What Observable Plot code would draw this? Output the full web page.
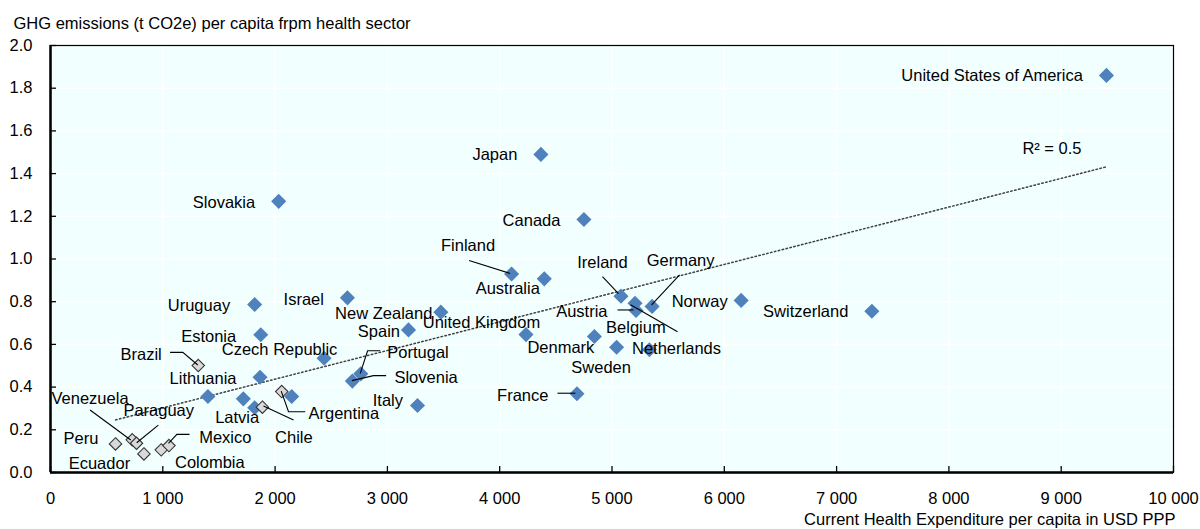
<!DOCTYPE html>
<html>
<head>
<meta charset="utf-8">
<script src="https://cdn.jsdelivr.net/npm/d3@7"></script>
<script src="https://cdn.jsdelivr.net/npm/@observablehq/plot@0.6"></script>
<style>
  html, body { margin: 0; padding: 0; background: #ffffff; }
  #chart svg { display: block; }
</style>
</head>
<body>
<div id="chart"></div>
<script>
// ---------------- DATA ----------------
const countries = [
  "United States of America", "Japan", "Slovakia", "Canada", "Finland", "Australia",
  "Ireland", "Germany", "Austria", "Netherlands", "Belgium", "Norway", "Switzerland",
  "Israel", "Uruguay", "Estonia", "New Zealand", "Spain", "United Kingdom", "Denmark",
  "Sweden", "Czech Republic", "Portugal", "Slovenia", "Italy", "France", "Lithuania",
  "Latvia", "Other A", "Other B", "Other C",
  "Brazil", "Argentina", "Chile", "Venezuela", "Paraguay", "Peru", "Ecuador", "Colombia", "Mexico"
];
// Current Health Expenditure per capita in USD PPP
const expenditure = [
  9403, 4367, 2032, 4750, 4106, 4397,
  5080, 5357, 5214, 5205, 5333, 6150, 7314,
  2644, 1818, 1872, 3476, 3188, 4234, 4843,
  5041, 2436, 2763, 2688, 3268, 4688, 1866,
  1818, 1402, 1717, 2148,
  1316, 2059, 1887, 728, 766, 579, 832, 986, 1055
];
// GHG emissions (t CO2e) per capita from health sector
const emissions = [
  1.86, 1.49, 1.27, 1.185, 0.93, 0.907,
  0.826, 0.778, 0.759, 0.793, 0.575, 0.806, 0.755,
  0.818, 0.787, 0.645, 0.751, 0.668, 0.646, 0.637,
  0.587, 0.535, 0.462, 0.428, 0.314, 0.369, 0.446,
  0.303, 0.356, 0.345, 0.356,
  0.501, 0.379, 0.306, 0.153, 0.137, 0.134, 0.087, 0.106, 0.126
];
// "main" = blue diamonds, "partner" = grey diamonds
const groups = [
  "main","main","main","main","main","main",
  "main","main","main","main","main","main","main",
  "main","main","main","main","main","main","main",
  "main","main","main","main","main","main","main",
  "main","main","main","main",
  "partner","partner","partner","partner","partner","partner","partner","partner","partner"
];
// shown label (empty = no label)
const labels = countries.map(c => c.startsWith("Other") ? "" : c);

const xTicks = [0, 1000, 2000, 3000, 4000, 5000, 6000, 7000, 8000, 9000, 10000];
const yTicks = [0, 0.2, 0.4, 0.6, 0.8, 1.0, 1.2, 1.4, 1.6, 1.8, 2.0];
const titleText = "GHG emissions (t CO2e) per capita frpm health sector";
const xTitleText = "Current Health Expenditure per capita in USD PPP";
const rSquaredText = "R\u00B2 = 0.5";

// ---------------- LABEL LAYOUT (pixel offsets from marker) ----------------
// [dx, dy, textAnchor, leader polyline offsets]
const labelLayout = {
  "United States of America": [-23, 0, "end"],
  "Japan": [-23, 0, "end"],
  "Slovakia": [-23, 1, "end"],
  "Canada": [-23, 1, "end"],
  "Finland": [-43, -28, "middle", [[-42, -13], [-1, 0]]],
  "Australia": [-36, 10, "middle"],
  "Ireland": [-18, -34, "middle", [[-18, -19], [-2, -2]]],
  "Germany": [29, -46, "middle", [[28, -31], [0, -1]]],
  "Austria": [-28, 1, "end", [[-18, 0], [-2, 0]]],
  "Netherlands": [42, 45, "middle", [[-4, 2], [43, 29]]],
  "Belgium": [-13, -22, "middle"],
  "Norway": [-13, 1, "end"],
  "Switzerland": [-23, 0, "end"],
  "Israel": [-23, 1.5, "end"],
  "Uruguay": [-24, 1, "end"],
  "Estonia": [-24, 1.5, "end"],
  "New Zealand": [-8, 1.6, "end"],
  "Spain": [-8, 1.4, "end"],
  "United Kingdom": [-44, -12, "middle"],
  "Denmark": [-33, 11, "middle"],
  "Sweden": [-15, 20, "middle"],
  "Czech Republic": [-44, -9, "middle"],
  "Portugal": [27, -21, "start", [[20, -22.6], [7.3, -22.6], [0, 0]]],
  "Slovenia": [42.6, -4, "start", [[34.3, -5], [21.6, -5], [0, 0]]],
  "Italy": [-14, -5, "end"],
  "France": [-28, 1.7, "end", [[-19, 0], [-1, 0]]],
  "Lithuania": [-23, 1.6, "end"],
  "Latvia": [-17, 10, "middle"],
  "Brazil": [-36, -11, "end", [[-27.7, -12.7], [-15, -12.7], [0, 0]]],
  "Argentina": [27.3, 22.3, "start", [[24, 20.7], [7.3, 20.7], [0, 0]]],
  "Chile": [32, 30, "middle", [[31.6, 13.3], [1.6, -0.7]]],
  "Venezuela": [-41.7, -41, "middle", [[-41.7, -29.3], [-1, 0.7]]],
  "Paraguay": [22.7, -32.7, "middle", [[22.3, -17.7], [0.7, 0]]],
  "Peru": [-16.7, -5, "end"],
  "Ecuador": [-44, 10, "middle"],
  "Colombia": [14.3, 12.4, "start"],
  "Mexico": [30.7, -8.3, "start", [[21, -10.7], [8.4, -10.7], [0, -1.7]]]
};

// ---------------- BUILD ----------------
const points = countries.map((c, i) => ({
  country: c, label: labels[i], x: expenditure[i], y: emissions[i], group: groups[i]
}));
const mainPts = points.filter(d => d.group === "main");
const partnerPts = points.filter(d => d.group === "partner");

const spaceFmt = d3.formatLocale({decimal: ".", thousands: " ", grouping: [3], currency: ["", ""]}).format(",");
const FONT = "'Liberation Sans', Arial, Helvetica, sans-serif";
const FS = 16.5;

const plot = Plot.plot({
  width: 1200,
  height: 529,
  marginLeft: 50,
  marginRight: 27,
  marginTop: 45,
  marginBottom: 57,
  style: {fontFamily: FONT, fontSize: FS + "px", color: "#000", background: "#ffffff", overflow: "visible"},
  x: {domain: [0, 10000]},
  y: {domain: [0, 2]},
  marks: [
    Plot.frame({fill: "#f2ffff", stroke: null}),
    Plot.gridX(xTicks, {stroke: "#ffffff", strokeOpacity: 1, strokeWidth: 1.5}),
    Plot.gridY(yTicks, {stroke: "#ffffff", strokeOpacity: 1, strokeWidth: 1.5}),
    Plot.frame({stroke: "#000", strokeWidth: 1.2, fill: null}),
    Plot.ruleX([0], {stroke: "#000", strokeWidth: 2.5}),
    Plot.ruleY([0], {stroke: "#000", strokeWidth: 2.5}),
    Plot.axisX({ticks: xTicks, tickFormat: spaceFmt, tickSize: -6, tickPadding: 26, label: null, strokeWidth: 1.3}),
    Plot.axisY({ticks: yTicks, tickFormat: d3.format(".1f"), tickSize: -6, tickPadding: 24, label: null, strokeWidth: 1.3}),
    Plot.linearRegressionY(points, {x: "x", y: "y", ci: 0, stroke: "#404040", strokeWidth: 1.5, strokeDasharray: "1.5,2.5"}),
    Plot.dot(mainPts, {x: "x", y: "y", symbol: "diamond2", r: 6.8, fill: "#4f81bd", stroke: null}),
    Plot.dot(partnerPts, {x: "x", y: "y", symbol: "diamond2", r: 5.6, fill: "#d9d9d9", stroke: "#333333", strokeWidth: 1.1}),
    Plot.text([titleText], {frameAnchor: "top-left", dx: -37, dy: -22, textAnchor: "start", lineAnchor: "middle", fill: "#000"}),
    Plot.text([xTitleText], {frameAnchor: "bottom-right", dx: 2, dy: 47, textAnchor: "end", lineAnchor: "middle", fill: "#000"})
  ]
});
document.getElementById("chart").appendChild(plot);

// ---------------- LABELS & LEADERS (using Plot's scales) ----------------
const sx = plot.scale("x"), sy = plot.scale("y");
const svg = d3.select(plot);
const layer = svg.append("g").attr("font-family", FONT).attr("font-size", FS).attr("fill", "#000");

points.forEach(p => {
  if (!p.label) return;
  const L = labelLayout[p.label];
  if (!L) return;
  const px = sx.apply(p.x), py = sy.apply(p.y);
  if (L[3]) {
    layer.append("path")
      .attr("d", d3.line()(L[3].map(([a, b]) => [px + a, py + b])))
      .attr("fill", "none").attr("stroke", "#000").attr("stroke-width", 1.1);
  }
  layer.append("text")
    .attr("x", px + L[0]).attr("y", py + L[1])
    .attr("text-anchor", L[2])
    .attr("dominant-baseline", "central")
    .text(p.label);
});

// R² label near the regression line end
const mx = d3.mean(points, d => d.x), my = d3.mean(points, d => d.y);
const slope = d3.sum(points, d => (d.x - mx) * (d.y - my)) / d3.sum(points, d => (d.x - mx) ** 2);
const xmax = d3.max(points, d => d.x);
const yEnd = my + slope * (xmax - mx);
layer.append("text")
  .attr("x", sx.apply(xmax) - 54).attr("y", sy.apply(yEnd) - 18)
  .attr("text-anchor", "middle").attr("dominant-baseline", "central")
  .text(rSquaredText);
</script>
</body>
</html>
